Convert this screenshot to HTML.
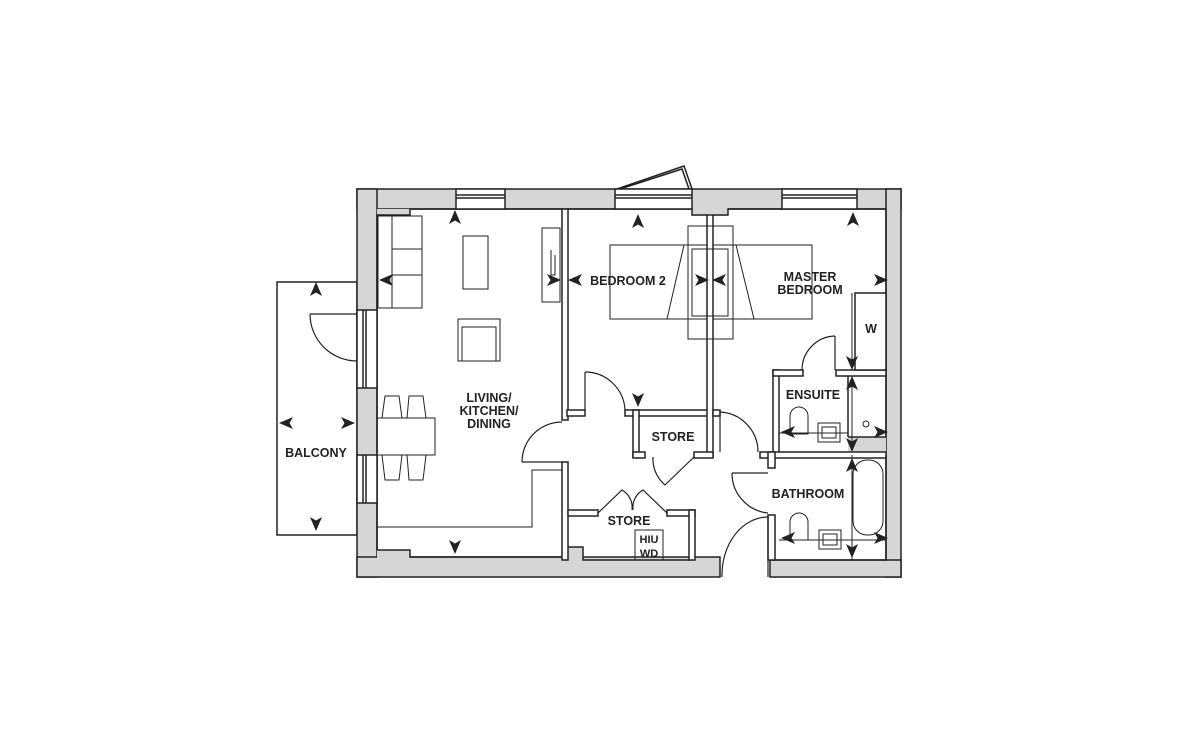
<!DOCTYPE html>
<html><head><meta charset="utf-8"><style>
html,body{margin:0;padding:0;background:#fff;}
svg{display:block}
text{font-family:"Liberation Sans",sans-serif;font-size:12.5px;font-weight:bold;fill:#222;text-anchor:middle}
</style></head><body>
<svg width="1200" height="742" viewBox="0 0 1200 742" xmlns="http://www.w3.org/2000/svg">
<defs>
<path id="ar" d="M0,-8 L6,6 L0,2.5 L-6,6 Z" fill="#222"/>
</defs>
<g stroke="#222" stroke-width="1.5" fill="#d6d6d6">
<rect x="277" y="282" width="80" height="253" fill="#fff"/>
<rect x="357" y="189" width="544" height="20"/>
<rect x="357" y="189" width="20" height="388"/>
<rect x="886" y="189" width="15" height="388"/>
<rect x="357" y="557" width="363" height="20"/>
<rect x="770" y="560" width="131" height="17"/>
<rect x="377" y="209" width="33" height="6" stroke="none"/>
<rect x="377" y="550" width="33" height="8" stroke="none"/>
<rect x="568" y="547" width="15" height="11" stroke="none"/>
<rect x="692" y="205" width="36" height="11" stroke="none"/>
<rect x="848" y="437" width="38" height="18" stroke="none"/>
</g>
<g stroke="#222" stroke-width="1.5" fill="none">
<polyline points="377,550 377,215 410,215 410,209 562,209"/>
<polyline points="568,209 692,209 692,215 707,215"/>
<polyline points="713,215 728,215 728,209 886,209 886,437"/>
<polyline points="377,550 410,550 410,557 562,557"/>
<polyline points="568,547 583,547 583,560 690,560"/>
<polyline points="775,560 886,560 886,455"/>
<g fill="#fff">
<rect x="456" y="189" width="49" height="20"/>
<rect x="615" y="189" width="77" height="20"/>
<rect x="782" y="189" width="75" height="20"/>
<rect x="357" y="310" width="20" height="78"/>
<rect x="357" y="455" width="20" height="48"/>
</g>
<line x1="456" y1="195" x2="505" y2="195"/><line x1="456" y1="198" x2="505" y2="198"/>
<line x1="615" y1="195" x2="692" y2="195"/><line x1="615" y1="198" x2="692" y2="198"/>
<line x1="782" y1="195" x2="857" y2="195"/><line x1="782" y1="198" x2="857" y2="198"/>
<line x1="363" y1="310" x2="363" y2="388"/><line x1="366" y1="310" x2="366" y2="388"/>
<line x1="363" y1="455" x2="363" y2="503"/><line x1="366" y1="455" x2="366" y2="503"/>
<polyline points="617,189 684,166 692,189"/><polyline points="620,189 682,169 689,189"/>
</g>
<g stroke="#222" stroke-width="1.5" fill="#fff">
<rect x="562" y="209" width="6" height="211"/>
<rect x="562" y="462" width="6" height="98"/>
<rect x="567" y="410" width="18" height="6"/>
<rect x="625" y="410" width="88" height="6"/>
<rect x="707" y="215" width="6" height="242"/>
<rect x="633" y="410" width="6" height="47"/>
<rect x="633" y="452" width="12" height="6"/>
<rect x="694" y="452" width="19" height="6"/>
<rect x="568" y="510" width="30" height="6"/>
<rect x="667" y="510" width="28" height="6"/>
<rect x="689" y="510" width="6" height="50"/>
<rect x="713" y="410" width="7" height="6"/>
<rect x="773" y="370" width="6" height="87"/>
<rect x="773" y="370" width="30" height="6"/>
<rect x="836" y="370" width="50" height="6"/>
<rect x="760" y="452" width="126" height="6"/>
<rect x="768" y="452" width="7" height="16"/>
<rect x="768" y="515" width="7" height="45"/>
<rect x="855" y="293" width="31" height="77"/>
</g>
<line x1="848" y1="376" x2="848" y2="437" stroke="#222" stroke-width="1.5"/>
<line x1="848" y1="437" x2="886" y2="437" stroke="#222" stroke-width="1.5"/>
<g stroke="#222" stroke-width="1.2" fill="none">
<line x1="310" y1="314" x2="357" y2="314"/><path d="M310,314 A47,47 0 0 0 357,361"/>
<line x1="522" y1="462" x2="562" y2="462"/><path d="M522,462 A40,40 0 0 1 562,422"/>
<line x1="585" y1="372" x2="585" y2="410"/><path d="M585,372 A40,40 0 0 1 625,410"/>
<line x1="694" y1="457" x2="665" y2="485"/><path d="M665,485 A34,34 0 0 1 653,457"/>
<line x1="720" y1="412" x2="720" y2="452"/><path d="M720,412 A40,40 0 0 1 758,452"/>
<line x1="835" y1="336" x2="835" y2="370"/><path d="M835,336 A34,34 0 0 0 802,370"/>
<line x1="732" y1="473" x2="768" y2="473"/><path d="M732,473 A40,40 0 0 0 768,513"/>
<line x1="768" y1="515" x2="768" y2="577"/><path d="M768,517 A46,58 0 0 0 722,577"/>
<path d="M598,513 L622,490 A20,20 0 0 1 632,510 M667,513 L643,490 A20,20 0 0 0 633,510"/>
</g>
<g stroke="#222" stroke-width="1" fill="none">
<rect x="378" y="216" width="44" height="92"/>
<line x1="392" y1="216" x2="392" y2="308"/>
<line x1="392" y1="249" x2="422" y2="249"/><line x1="392" y1="275" x2="422" y2="275"/>
<rect x="463" y="236" width="25" height="53"/>
<rect x="458" y="319" width="42" height="42"/><rect x="462" y="327" width="34" height="34"/>
<rect x="377" y="418" width="58" height="37"/>
<path d="M382,418 L385,396 L399,396 L402,418 M407,418 L409,396 L423,396 L426,418"/>
<path d="M382,455 L385,480 L399,480 L402,455 M407,455 L409,480 L423,480 L426,455"/>
<rect x="542" y="228" width="18" height="74"/>
<path d="M551,250 L551,275 L555,275 L555,255"/>
<polyline points="377,527 532,527 532,470 562,470"/>
<rect x="610" y="245" width="97" height="74"/>
<rect x="713" y="245" width="99" height="74"/>
<rect x="688" y="226" width="45" height="113"/>
<rect x="692" y="249" width="36" height="67"/>
<path d="M684,245 L667,319 M736,245 L754,319"/>
<rect x="635" y="530" width="28" height="30"/>
<rect x="853" y="460" width="30" height="75" rx="14"/>
<rect x="818" y="423" width="22" height="19"/><rect x="822" y="427" width="14" height="11"/>
<rect x="819" y="530" width="22" height="19"/><rect x="823" y="534" width="14" height="11"/>
<path d="M790,434 L790,416 A9,9 0 0 1 808,416 L808,434 Z"/>
<path d="M790,540 L790,522 A9,9 0 0 1 808,522 L808,540 Z"/>
<circle cx="866" cy="424" r="3"/>
<line x1="779" y1="433" x2="848" y2="433"/>
<line x1="779" y1="540" x2="886" y2="540"/>
<line x1="852" y1="455" x2="852" y2="560"/>
<line x1="852" y1="376" x2="852" y2="445"/>
<line x1="852" y1="293" x2="852" y2="370"/>
</g>
<use href="#ar" transform="translate(455,218)"/>
<use href="#ar" transform="translate(316,290)"/>
<use href="#ar" transform="translate(316,523) rotate(180)"/>
<use href="#ar" transform="translate(287,423) rotate(-90)"/>
<use href="#ar" transform="translate(347,423) rotate(90)"/>
<use href="#ar" transform="translate(387,280) rotate(-90)"/>
<use href="#ar" transform="translate(553,280) rotate(90)"/>
<use href="#ar" transform="translate(576,280) rotate(-90)"/>
<use href="#ar" transform="translate(638,222)"/>
<use href="#ar" transform="translate(638,399) rotate(180)"/>
<use href="#ar" transform="translate(701,280) rotate(90)"/>
<use href="#ar" transform="translate(720,280) rotate(-90)"/>
<use href="#ar" transform="translate(853,220)"/>
<use href="#ar" transform="translate(880,280) rotate(90)"/>
<use href="#ar" transform="translate(852,362) rotate(180)"/>
<use href="#ar" transform="translate(852,384)"/>
<use href="#ar" transform="translate(789,432) rotate(-90)"/>
<use href="#ar" transform="translate(880,432) rotate(90)"/>
<use href="#ar" transform="translate(852,444) rotate(180)"/>
<use href="#ar" transform="translate(852,466)"/>
<use href="#ar" transform="translate(789,538) rotate(-90)"/>
<use href="#ar" transform="translate(880,538) rotate(90)"/>
<use href="#ar" transform="translate(852,550) rotate(180)"/>
<use href="#ar" transform="translate(455,546) rotate(180)"/>
<text x="489" y="402">LIVING/</text>
<text x="489" y="415">KITCHEN/</text>
<text x="489" y="428">DINING</text>
<text x="316" y="457">BALCONY</text>
<text x="628" y="285">BEDROOM 2</text>
<text x="810" y="281">MASTER</text>
<text x="810" y="294">BEDROOM</text>
<text x="871" y="333">W</text>
<text x="813" y="399">ENSUITE</text>
<text x="673" y="441">STORE</text>
<text x="629" y="525">STORE</text>
<text x="649" y="543" style="font-size:11px">HIU</text>
<text x="649" y="557" style="font-size:11px">WD</text>
<text x="808" y="498">BATHROOM</text>
</svg>
</body></html>
